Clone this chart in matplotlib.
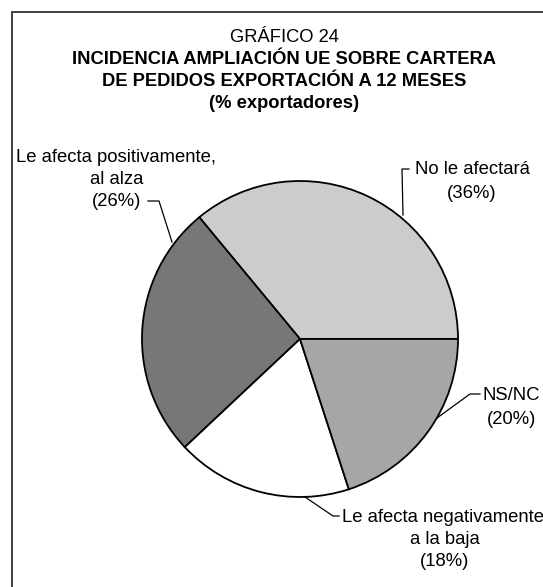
import matplotlib
matplotlib.use("Agg")
import matplotlib.pyplot as plt
from matplotlib.patches import Rectangle

plt.rcParams['font.family'] = ['Liberation Sans', 'DejaVu Sans']

# data
labels = ["No le afectará", "Le afecta positivamente,\nal alza",
          "Le afecta negativamente\na la baja", "NS/NC"]
values = [36, 26, 18, 20]
colors = ["#cccccc", "#777777", "#ffffff", "#a6a6a6"]

W, H = 543, 587
fig = plt.figure(figsize=(W / 100, H / 100), dpi=100)
ax = fig.add_axes([0, 0, 1, 1])

def Y(y):
    # pixel row (from top) -> data y
    return H - y

# frame (only top and left edges visible)
ax.add_patch(Rectangle((12, -20), W + 20, Y(12) + 20, fill=False,
                       edgecolor='#333333', lw=1.3, clip_on=False))

# title
tfs = 13.2
ax.text(284, Y(37), "GRÁFICO 24", ha='center', va='center', fontsize=tfs)
ax.text(284, Y(59), "INCIDENCIA AMPLIACIÓN UE SOBRE CARTERA", ha='center',
        va='center', fontsize=tfs, fontweight='bold')
ax.text(284, Y(81), "DE PEDIDOS EXPORTACIÓN A 12 MESES", ha='center',
        va='center', fontsize=tfs, fontweight='bold')
ax.text(284, Y(104), "(% exportadores)", ha='center', va='center',
        fontsize=tfs, fontweight='bold')

# pie
ax.pie(values, colors=colors, startangle=0, counterclock=True,
       center=(300, Y(339)), radius=158,
       wedgeprops=dict(edgecolor='black', linewidth=1.3))
ax.set_xlim(0, W)
ax.set_ylim(0, H)
ax.set_aspect('equal')
ax.axis('off')

pct = ["(%d%%)" % v for v in values]
fs = 13.3

# leader lines (pixel coordinates from top-left)
def leader(pts):
    ax.plot([p[0] for p in pts], [Y(p[1]) for p in pts], color='black', lw=0.9)

# No le afectará
leader([(403, 215), (402, 169), (409, 169)])
ax.text(415, Y(170), labels[0], ha='left', va='center', fontsize=fs)
ax.text(472, Y(193), pct[0], ha='center', va='center', fontsize=fs)

# Le afecta positivamente
leader([(172, 242), (159, 201), (148, 201)])
l1, l2 = labels[1].split("\n")
ax.text(16, Y(157), l1, ha='left', va='center', fontsize=fs)
ax.text(117, Y(179), l2, ha='center', va='center', fontsize=fs)
ax.text(117, Y(202), pct[1], ha='center', va='center', fontsize=fs)

# Le afecta negativamente
leader([(305, 497), (333, 516), (339, 516)])
n1, n2 = labels[2].split("\n")
ax.text(342, Y(517), n1, ha='left', va='center', fontsize=fs)
ax.text(445, Y(540), n2, ha='center', va='center', fontsize=fs)
ax.text(445, Y(562), pct[2], ha='center', va='center', fontsize=fs)

# NS/NC
leader([(437, 418), (470, 394), (480, 394)])
ax.text(483, Y(395), labels[3], ha='left', va='center', fontsize=fs)
ax.text(512, Y(419), pct[3], ha='center', va='center', fontsize=fs)

fig.savefig("out.png", dpi=100)
